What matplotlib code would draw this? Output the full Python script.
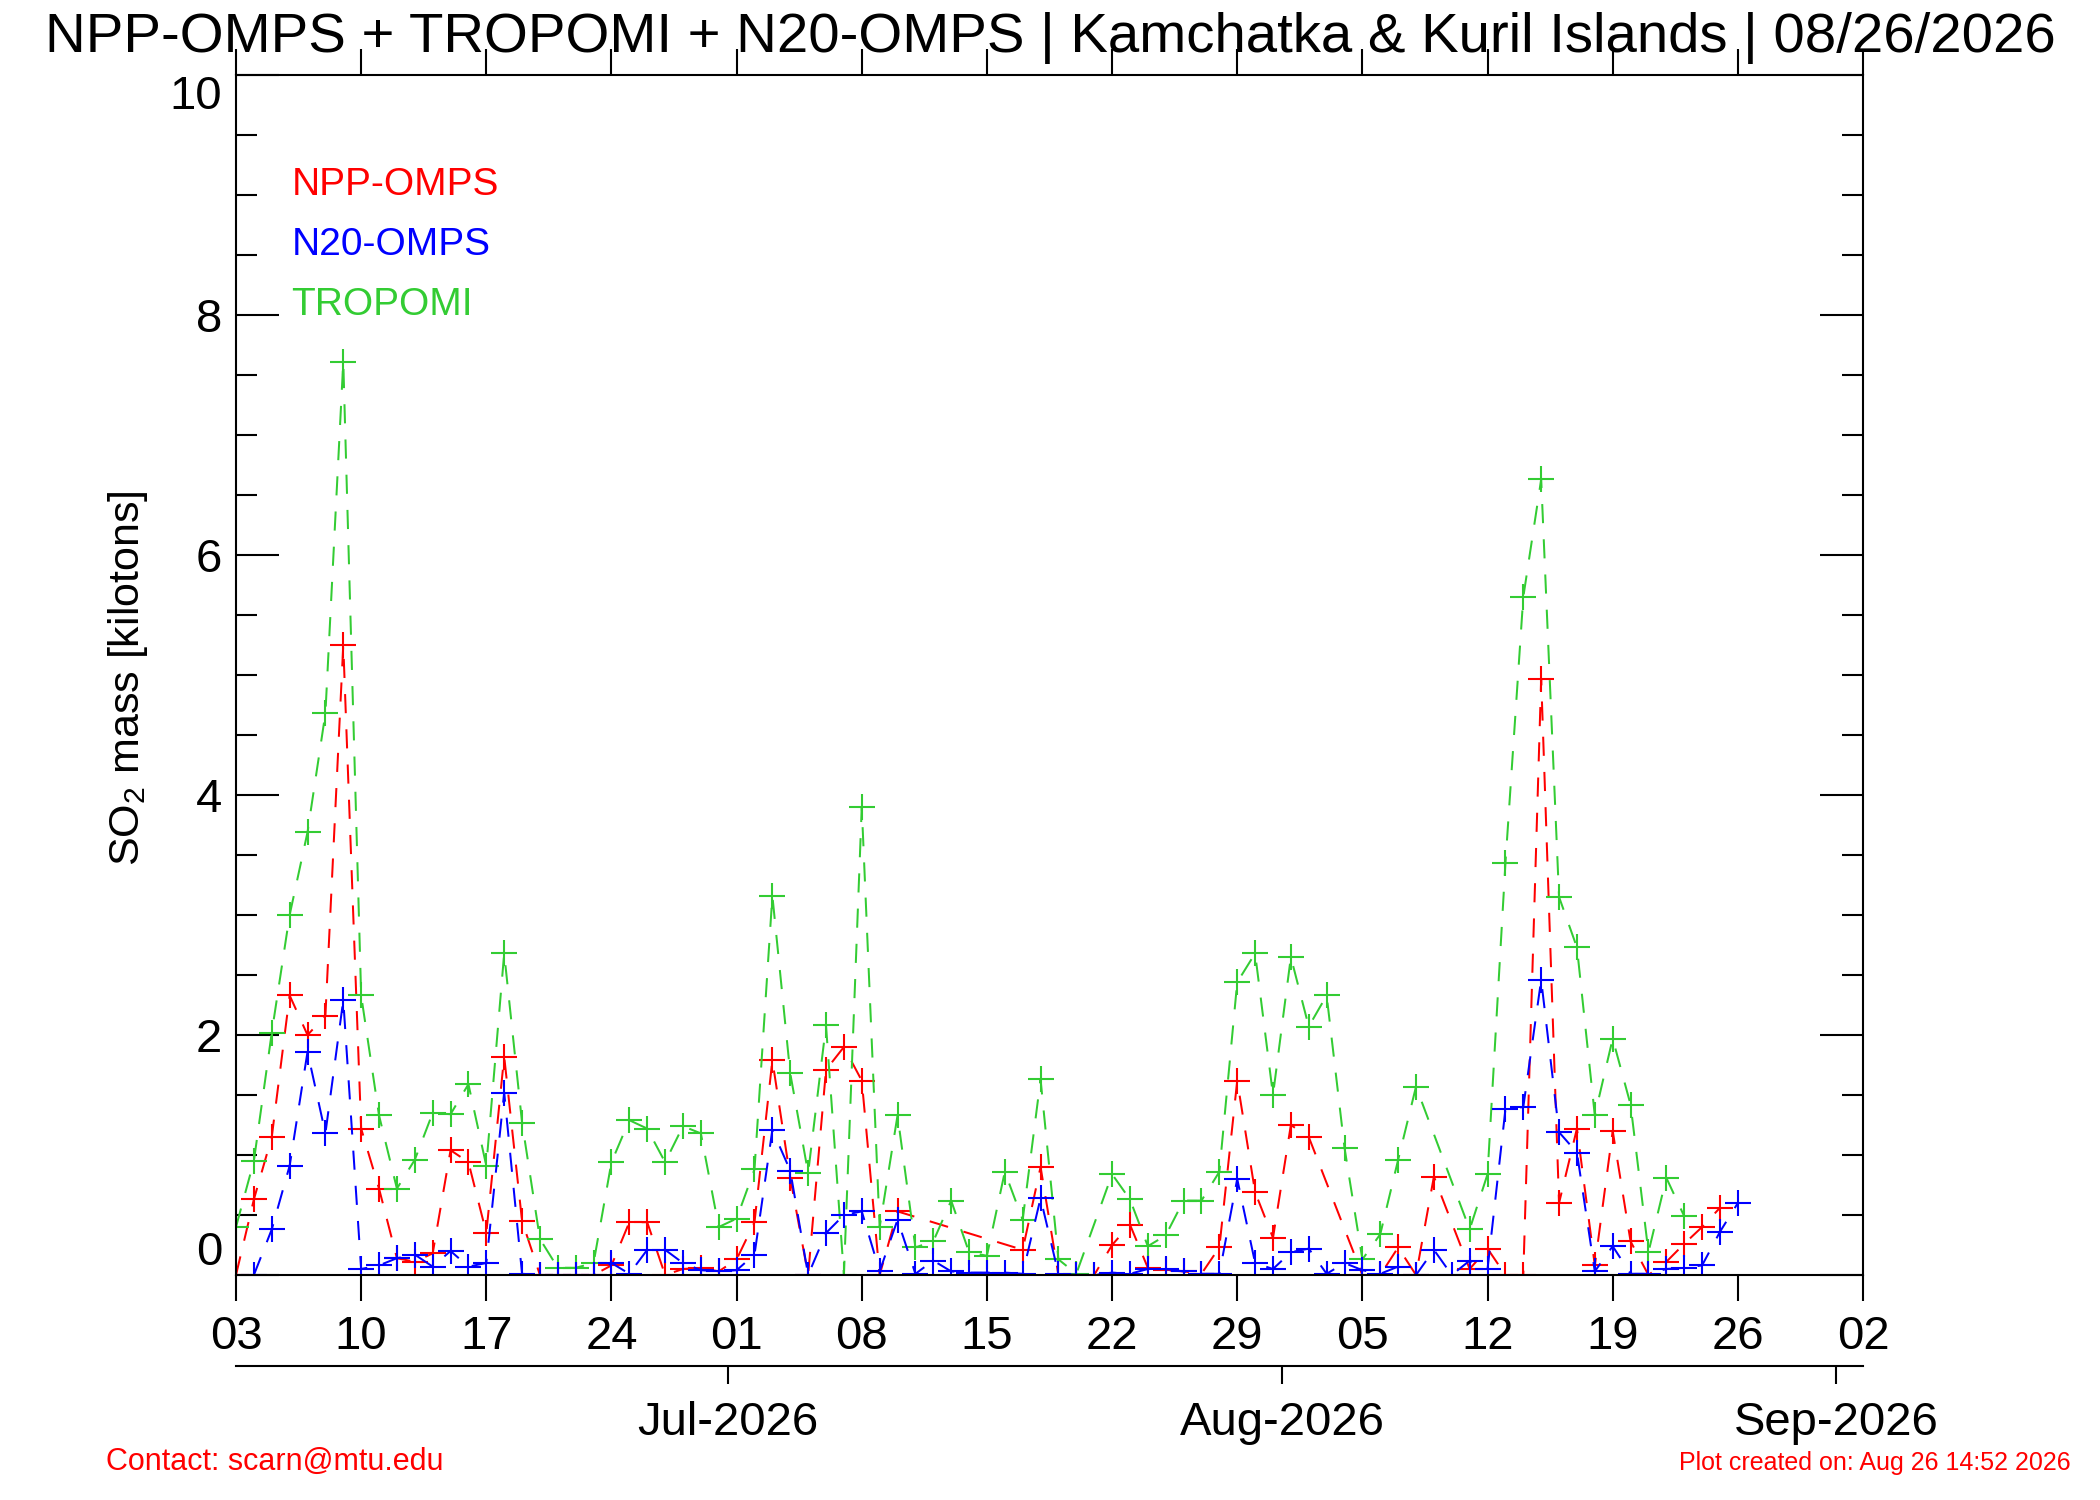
import numpy as np
import matplotlib
matplotlib.use('Agg')
import matplotlib.pyplot as plt
import matplotlib.dates as mdates
from matplotlib.ticker import MultipleLocator

plt.rcParams['font.family'] = ['Liberation Sans', 'DejaVu Sans']
plt.rcParams['mathtext.fontset'] = 'custom'
plt.rcParams['mathtext.rm'] = 'Liberation Sans'

start = np.datetime64('2026-06-03')

# days since Jun 03 and SO2 mass (kilotons) for each instrument
npp_days = [0, 1, 2, 3, 4, 5, 6, 7, 8, 9, 10, 11, 12, 13, 14, 15, 16, 17, 18, 19, 20,
            21, 22, 23, 24, 25, 26, 27, 28, 29, 30, 31, 32, 33, 34, 35, 36, 37,
            44, 45, 46, 47, 48, 49, 50, 51, 52, 53, 54, 55, 56, 57, 58, 59, 60,
            63, 64, 65, 66, 67, 69, 70, 71, 72, 73, 74, 75, 76, 77, 78, 79, 80,
            81, 82, 83]
npp_vals = [0.0, 0.63, 1.15, 2.33, 2.0, 2.16, 5.25, 1.22, 0.72, 0.14, 0.11, 0.18, 1.04,
            0.94, 0.35, 1.82, 0.45, 0.0, 0.0, 0.0, 0.0,
            0.08, 0.44, 0.44, 0.0, 0.05, 0.06, 0.03, 0.13, 0.44, 1.79, 0.81, 0.0, 1.71,
            1.90, 1.62, 0.0, 0.53,
            0.21, 0.90, 0.0, 0.0, 0.0, 0.25, 0.42, 0.06, 0.04, 0.03, 0.01, 0.23, 1.62,
            0.69, 0.31, 1.25, 1.15,
            0.0, 0.0, 0.23, 0.0, 0.82, 0.05, 0.22, 0.0, 0.0, 4.97, 0.60, 1.22, 0.08,
            1.20, 0.28, 0.0, 0.11,
            0.26, 0.40, 0.56]

tropomi_days = [0, 1, 2, 3, 4, 5, 6, 7, 8, 9, 10, 11, 12, 13, 14, 15, 16, 17, 18, 19, 20,
                21, 22, 23, 24, 25, 26, 27, 28, 29, 30, 31, 32, 33, 34, 35, 36, 37, 38,
                39, 40, 41, 42, 43, 44, 45, 46, 47, 49, 50, 51, 52, 53, 54, 55, 56, 57,
                58, 59, 60, 61, 62, 63, 64, 65, 66, 69, 70, 71, 72, 73, 74, 75, 76, 77,
                78, 79, 80, 81]
tropomi_vals = [0.40, 0.95, 2.02, 3.0, 3.69, 4.68, 7.61, 2.33, 1.33, 0.72, 0.96, 1.35,
                1.34, 1.59, 0.91, 2.68, 1.27, 0.30, 0.06, 0.06, 0.10,
                0.94, 1.29, 1.22, 0.94, 1.24, 1.18, 0.40, 0.47, 0.88, 3.16, 1.68, 0.85,
                2.08, 0.0, 3.90, 0.40, 1.33, 0.23,
                0.28, 0.62, 0.19, 0.16, 0.86, 0.46, 1.63, 0.13, 0.01, 0.84, 0.63, 0.24,
                0.33, 0.62, 0.62, 0.86, 2.44, 2.68,
                1.50, 2.65, 2.07, 2.33, 1.06, 0.13, 0.34, 0.96, 1.57, 0.38, 0.84, 3.43,
                5.65, 6.63, 3.15, 2.73, 1.33, 1.97,
                1.42, 0.19, 0.81, 0.49]

n20_days = [1, 2, 3, 4, 5, 6, 7, 8, 9, 10, 11, 12, 13, 14, 15, 16, 17, 18, 19, 20,
            21, 22, 23, 24, 25, 26, 27, 28, 29, 30, 31, 32, 33, 34, 35, 36, 37, 38,
            39, 40, 41, 42, 43, 44, 45, 46, 47, 48, 49, 50, 51, 52, 53, 54, 55, 56,
            57, 58, 59, 60, 61, 62, 63, 64, 65, 66, 67, 68, 69, 70, 71, 72, 73, 74,
            75, 76, 77, 78, 79, 80, 81, 82, 83, 84]
n20_vals = [0.0, 0.38, 0.91, 1.86, 1.18, 2.29, 0.05, 0.08, 0.14, 0.17, 0.07, 0.20, 0.07,
            0.10, 1.52, 0.01, 0.0, 0.0, 0.0, 0.0,
            0.10, 0.01, 0.21, 0.21, 0.10, 0.04, 0.03, 0.04, 0.17, 1.21, 0.87, 0.0, 0.35,
            0.50, 0.53, 0.03, 0.46, 0.01,
            0.12, 0.03, 0.02, 0.02, 0.02, 0.01, 0.64, 0.01, 0.0, 0.0, 0.02, 0.01, 0.05,
            0.05, 0.03, 0.01, 0.01, 0.80,
            0.10, 0.05, 0.19, 0.22, 0.01, 0.10, 0.04, 0.01, 0.07, 0.0, 0.21, 0.0, 0.12,
            0.05, 1.38, 1.40, 2.46, 1.19,
            1.02, 0.03, 0.24, 0.01, 0.01, 0.05, 0.06, 0.08, 0.36, 0.60]

month_starts = ['2026-07-01', '2026-08-01', '2026-09-01']
month_labels = ['Jul-2026', 'Aug-2026', 'Sep-2026']

title = 'NPP-OMPS + TROPOMI + N20-OMPS | Kamchatka & Kuril Islands | 08/26/2026'

W, H = 2100, 1500
fig = plt.figure(figsize=(21, 15), dpi=100)
ax = fig.add_axes([236 / W, 225 / H, 1627 / W, 1200 / H])

def to_dates(days):
    return start + np.array(days).astype('timedelta64[D]')

dash = (0, (9.5, 8))
series = [(npp_days, npp_vals, 'red'),
          (tropomi_days, tropomi_vals, '#33cc33'),
          (n20_days, n20_vals, 'blue')]
for days, vals, col in series:
    ax.plot(to_dates(days), vals, color=col, linestyle=dash, linewidth=1.45,
            marker='+', markersize=19, markeredgewidth=1.5)

ax.set_xlim(start, np.datetime64('2026-09-02'))
ax.set_ylim(0, 10)

xt = np.arange(start, np.datetime64('2026-09-03'), np.timedelta64(7, 'D'))
ax.set_xticks(xt)
ax.xaxis.set_major_formatter(mdates.DateFormatter('%d'))
ax.tick_params(axis='x', direction='out', length=19, width=1.5, pad=10,
               labelsize=34, top=True)

ax.set_yticks([0, 2, 4, 6, 8, 10])
ax.yaxis.set_minor_locator(MultipleLocator(0.5))
ax.tick_params(axis='y', which='major', direction='in', length=31, width=1.5,
               pad=10, labelsize=34, right=True)
ax.tick_params(axis='y', which='minor', direction='in', length=15, width=1.5,
               right=True)
ylabs = ax.get_yticklabels()
ylabs[0].set_va('bottom')
ylabs[-1].set_va('top')

for sp in ax.spines.values():
    sp.set_linewidth(1.5)

# month axis below the day axis (month marks sit half a day early in the original)
sec = ax.secondary_xaxis(-0.0758, functions=(lambda x: x + 0.5, lambda x: x - 0.5))
sec.set_xticks(mdates.date2num(np.array(month_starts, dtype='datetime64[D]')))
sec.set_xticklabels(month_labels)
sec.tick_params(direction='out', length=13, width=1.5, pad=12, labelsize=34)
sec.spines['bottom'].set_linewidth(1.5)

fig.text(128 / W, 1 - 678 / H, r'SO$_\mathrm{2}$ mass [kilotons]', rotation=90,
         ha='center', va='center', fontsize=31)

ax.text(0.034, 0.90, 'NPP-OMPS', color='red', fontsize=28, transform=ax.transAxes)
ax.text(0.034, 0.85, 'N20-OMPS', color='blue', fontsize=28, transform=ax.transAxes)
ax.text(0.034, 0.80, 'TROPOMI', color='#33cc33', fontsize=28, transform=ax.transAxes)

fig.text(0.5, 1 - 52 / H, title, ha='center', va='baseline', fontsize=40.6)
fig.text(106 / W, 1 - 1470 / H, 'Contact: scarn@mtu.edu', color='red',
         fontsize=22, va='baseline')
fig.text(2071 / W, 1 - 1470 / H, 'Plot created on: Aug 26 14:52 2026', color='red',
         fontsize=18, ha='right', va='baseline')

fig.savefig('out.png', dpi=100)
